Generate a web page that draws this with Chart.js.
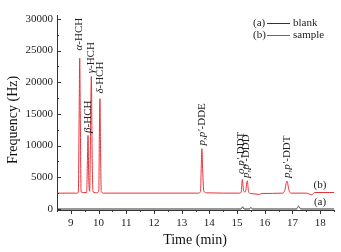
<!DOCTYPE html>
<html>
<head>
<meta charset="utf-8">
<script src="https://cdn.jsdelivr.net/npm/chart.js@4"></script>
<style>
html,body{margin:0;padding:0;background:#fff;}
#wrap{width:341px;height:252px;position:relative;}
</style>
</head>
<body>
<div id="wrap"><canvas id="c" width="341" height="252"></canvas></div>
<script>
// ---- data ----
const sampleTime = [8.5, 9.2, 9.27, 9.30, 9.32, 9.34, 9.37, 9.45, 9.57, 9.60, 9.62, 9.645, 9.68, 9.71, 9.74, 9.77, 9.80, 9.95, 10.01, 10.03, 10.05, 10.07, 10.10, 10.2,
  13.6, 13.68, 13.71, 13.73, 13.76, 13.80, 13.9, 15.1, 15.15, 15.19, 15.24, 15.30, 15.37, 15.42, 15.5, 15.8, 15.9,
  16.65, 16.72, 16.80, 16.88, 16.95, 17.5, 17.7, 17.8, 18.5];
const sampleFreq = [2500, 2500, 2600, 15000, 23800, 15000, 2700, 2600, 2600, 8000, 11600, 5000, 2800, 12000, 20900, 8000, 2700, 2550, 3000, 12000, 17400, 10000, 2700, 2500,
  2500, 2700, 7000, 9500, 6000, 2800, 2550, 2500, 2700, 4650, 2800, 2700, 4450, 2600, 2450, 2300, 2450,
  2500, 2900, 4400, 2900, 2500, 2500, 2250, 2600, 2600];
const blankTime = [8.5, 15.15, 15.2, 15.25, 15.45, 15.5, 15.55, 17.15, 17.22, 17.3, 18.5];
const blankFreq = [0, 0, 350, 0, 0, 250, 0, 0, 450, 0, 0];

const peakNames = [
  [["α", true], ["-HCH", false]],
  [["β", true], ["-HCH", false]],
  [["γ", true], ["-HCH", false]],
  [["δ", true], ["-HCH", false]],
  [["p,p′", true], ["-DDE", false]],
  [["o,p′", true], ["-DDT", false]],
  [["p,p′", true], ["-DDD", false]],
  [["p,p′", true], ["-DDT", false]]
];
const peakTimes = [9.30, 9.615, 9.74, 10.07, 13.74, 15.13, 15.34, 16.82];
const peakHeights = [25000, 12000, 21400, 18200, 10000, 5500, 4900, 4900];

const xTickValues = [9, 10, 11, 12, 13, 14, 15, 16, 17, 18];
const yTickValues = [0, 5000, 10000, 15000, 20000, 25000, 30000];

const seriesNames = ["blank", "sample"];
const seriesTags = ["(a)", "(b)"];
const seriesColors = ["#333333", "#e8323a"];

const pts = (t, v) => t.map((x, i) => ({x: x, y: v[i]}));
const SERIF = '"Liberation Serif", "DejaVu Serif", serif';

const deco = {
  id: 'deco',
  afterDraw(chart) {
    const ctx = chart.ctx;
    const xs = chart.scales.x, ys = chart.scales.y;
    const ca = chart.chartArea;
    ctx.save();
    ctx.strokeStyle = '#333';
    ctx.lineWidth = 1;
    ctx.beginPath();
    // x ticks (outward)
    for (let v = 8.5; v <= 18.5001; v += 0.5) {
      const px = Math.round(xs.getPixelForValue(v)) + 0.5;
      const major = Math.abs(v - Math.round(v)) < 1e-6;
      ctx.moveTo(px, ca.bottom);
      ctx.lineTo(px, ca.bottom + (major ? 4 : 2));
    }
    // y ticks (inward)
    for (let v = 0; v <= 30000; v += 2500) {
      const py = Math.round(ys.getPixelForValue(v)) + 0.5;
      const major = v % 5000 === 0;
      ctx.moveTo(ca.left, py);
      ctx.lineTo(ca.left + (major ? 4 : 2), py);
    }
    ctx.stroke();

    // peak labels
    ctx.fillStyle = '#222';
    ctx.textBaseline = 'middle';
    ctx.textAlign = 'left';
    peakNames.forEach((segs, i) => {
      const px = xs.getPixelForValue(peakTimes[i]);
      const py = ys.getPixelForValue(peakHeights[i]);
      ctx.save();
      ctx.translate(px, py);
      ctx.rotate(-Math.PI / 2);
      let off = 0;
      segs.forEach(([t, it]) => {
        ctx.font = (it ? 'italic ' : '') + '11px ' + SERIF;
        ctx.fillText(t, off, 0);
        off += ctx.measureText(t).width;
      });
      ctx.restore();
    });

    // legend
    ctx.font = '11px ' + SERIF;
    ctx.textBaseline = 'middle';
    const legY = [23, 35];
    for (let i = 0; i < 2; i++) {
      ctx.fillStyle = '#222';
      ctx.textAlign = 'left';
      ctx.fillText(seriesTags[i], 253, legY[i]);
      ctx.strokeStyle = seriesColors[i];
      ctx.beginPath();
      ctx.moveTo(267, legY[i] + 0.5);
      ctx.lineTo(290, legY[i] + 0.5);
      ctx.stroke();
      ctx.fillText(seriesNames[i], 293, legY[i]);
    }
    // curve tags
    ctx.textAlign = 'center';
    ctx.fillText(seriesTags[1], 320, 185);
    ctx.fillText(seriesTags[0], 320, 202);

    // axis titles
    ctx.font = '14px ' + SERIF;
    ctx.fillStyle = '#111';
    ctx.textAlign = 'center';
    ctx.fillText('Time (min)', 195, 240);
    ctx.save();
    ctx.translate(13, 120);
    ctx.rotate(-Math.PI / 2);
    ctx.fillText('Frequency (Hz)', 0, 0);
    ctx.restore();
    ctx.restore();
  }
};

new Chart(document.getElementById('c'), {
  type: 'line',
  data: {
    datasets: [
      {label: seriesNames[1], data: pts(sampleTime, sampleFreq), borderColor: seriesColors[1], borderWidth: 1, pointRadius: 0, cubicInterpolationMode: 'monotone', fill: false},
      {label: seriesNames[0], data: pts(blankTime, blankFreq), borderColor: seriesColors[0], borderWidth: 1, pointRadius: 0, cubicInterpolationMode: 'monotone', fill: false}
    ]
  },
  options: {
    responsive: false,
    animation: false,
    devicePixelRatio: 1,
    layout: {padding: {left: 0, right: 7, top: 15, bottom: 0}},
    plugins: {legend: {display: false}, tooltip: {enabled: false}},
    scales: {
      x: {
        type: 'linear', min: 8.5, max: 18.5,
        afterBuildTicks: s => { s.ticks = xTickValues.map(v => ({value: v})); },
        afterFit: s => { s.height = 42; },
        grid: {display: false, drawTicks: false},
        border: {display: true, color: '#333', width: 1},
        ticks: {padding: 7, color: '#222', font: {family: SERIF, size: 11}, maxRotation: 0, autoSkip: false, callback: v => String(v)}
      },
      y: {
        type: 'linear', min: -160, max: 30600,
        afterBuildTicks: s => { s.ticks = yTickValues.map(v => ({value: v})); },
        afterFit: s => { s.width = 57; },
        grid: {display: false, drawTicks: false},
        border: {display: true, color: '#333', width: 1},
        ticks: {padding: 4, color: '#222', font: {family: SERIF, size: 11}, callback: v => String(v)}
      }
    }
  },
  plugins: [deco]
});
</script>
</body>
</html>
